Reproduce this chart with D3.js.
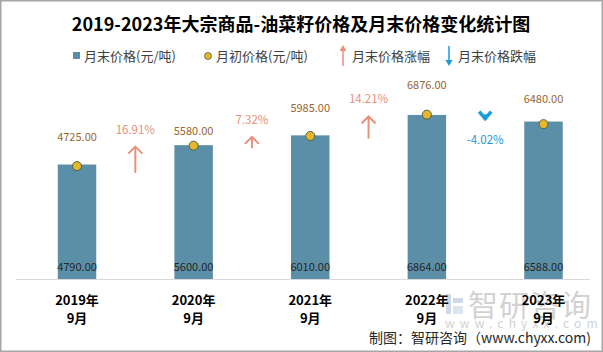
<!DOCTYPE html>
<html>
<head>
<meta charset="utf-8">
<script src="https://cdn.jsdelivr.net/npm/d3@7"></script>
<style>
  body { margin: 0; background: #fff; }
  text { font-family: "Noto Sans CJK SC", "Noto Sans", sans-serif; }
</style>
</head>
<body>
<div id="chart"></div>
<script>
// data
const categories = ["2019年\n9月", "2020年\n9月", "2021年\n9月", "2022年\n9月", "2023年\n9月"];
const endPrices = [4790, 5600, 6010, 6864, 6588];      // 月末价格
const startPrices = [4725, 5580, 5985, 6876, 6480];    // 月初价格
const changes = [16.91, 7.32, 14.21, -4.02];           // 月末价格涨跌幅 (%)

const W = 603, H = 352;
const baseY = 279;
const labelLift = [30, 16, 29, 31, 26];

const svg = d3.select("#chart").append("svg")
    .attr("width", W).attr("height", H);

svg.append("rect")
    .attr("x", 0.75).attr("y", 0.75)
    .attr("width", W - 1.5).attr("height", H - 1.5)
    .attr("fill", "#fff").attr("stroke", "#a6a6a6").attr("stroke-width", 1.5);

const x = d3.scaleBand()
    .domain(categories)
    .range([18.7, 601.8])
    .paddingInner(0.67)
    .paddingOuter(0.335);
const cx = d => x(d) + x.bandwidth() / 2;

const y = d3.scaleLinear().domain([0, 10000]).range([baseY, 40]);
const arrowLen = d3.scaleLinear().domain([0, 20]).range([0, 31]);

// watermark
const wm = svg.append("g");
wm.append("rect").attr("x", 446).attr("y", 294).attr("width", 5).attr("height", 20).attr("fill", "#cdd9e6");
wm.append("rect").attr("x", 453).attr("y", 298).attr("width", 10).attr("height", 5).attr("fill", "#cdd9e6");
wm.append("rect").attr("x", 453).attr("y", 306).attr("width", 10).attr("height", 8).attr("fill", "#dde6ef");
wm.append("text").attr("x", 468).attr("y", 316)
    .attr("font-size", 30).attr("fill", "#d2d2d2").attr("letter-spacing", 1)
    .text("智研咨询");
wm.append("text").attr("x", 445).attr("y", 328)
    .attr("font-size", 12).attr("fill", "#d2d2d2").attr("letter-spacing", 5.2)
    .text("www.chyxx.com");

// title
svg.append("text")
    .attr("x", 301).attr("y", 23)
    .attr("text-anchor", "middle").attr("dominant-baseline", "central")
    .attr("font-size", 18).attr("font-weight", "bold").attr("fill", "#000")
    .text("2019-2023年大宗商品-油菜籽价格及月末价格变化统计图");

// legend
const lg = svg.append("g").attr("font-size", 13).attr("fill", "#404040");
lg.append("rect").attr("x", 73).attr("y", 52).attr("width", 7).attr("height", 7).attr("fill", "#5b8fa7");
lg.append("text").attr("x", 84).attr("y", 55).attr("dominant-baseline", "central").text("月末价格(元/吨)");
lg.append("circle").attr("cx", 208).attr("cy", 56).attr("r", 3.5)
    .attr("fill", "#e9b52b").attr("stroke", "#4a6741").attr("stroke-width", 0.8);
lg.append("text").attr("x", 216).attr("y", 55).attr("dominant-baseline", "central").text("月初价格(元/吨)");
lg.append("line").attr("x1", 343).attr("x2", 343).attr("y1", 66).attr("y2", 49)
    .attr("stroke", "#e9907b").attr("stroke-width", 1.5);
lg.append("path").attr("d", "M339.5,51 L343,45 L346.5,51 Z").attr("fill", "#e9907b");
lg.append("text").attr("x", 352).attr("y", 55).attr("dominant-baseline", "central").text("月末价格涨幅");
lg.append("line").attr("x1", 449).attr("x2", 449).attr("y1", 46).attr("y2", 62)
    .attr("stroke", "#1b9ad6").attr("stroke-width", 1.5);
lg.append("path").attr("d", "M445.5,60 L449,66 L452.5,60 Z").attr("fill", "#1b9ad6");
lg.append("text").attr("x", 458).attr("y", 55).attr("dominant-baseline", "central").text("月末价格跌幅");

// bars
svg.selectAll(".bar")
    .data(endPrices)
    .join("rect")
    .attr("class", "bar")
    .attr("x", (d, i) => x(categories[i]))
    .attr("y", d => y(d))
    .attr("width", x.bandwidth())
    .attr("height", d => baseY - y(d))
    .attr("fill", "#5b8fa7");

// bar labels
svg.selectAll(".barLabel")
    .data(endPrices)
    .join("text")
    .attr("class", "barLabel")
    .attr("x", (d, i) => cx(categories[i]))
    .attr("y", baseY - 13)
    .attr("text-anchor", "middle").attr("dominant-baseline", "central")
    .attr("font-size", 11).attr("fill", "#262626")
    .attr("font-family", "Liberation Sans, sans-serif")
    .text(d => d.toFixed(2));

// axis line
svg.append("line")
    .attr("x1", 16).attr("x2", 590)
    .attr("y1", baseY + 0.5).attr("y2", baseY + 0.5)
    .attr("stroke", "#d9d9d9").attr("stroke-width", 1);

// start price dots
svg.selectAll(".dot")
    .data(startPrices)
    .join("circle")
    .attr("class", "dot")
    .attr("cx", (d, i) => cx(categories[i]))
    .attr("cy", d => y(d))
    .attr("r", 4.5)
    .attr("fill", "#e9b52b").attr("stroke", "#4a6741").attr("stroke-width", 1);

svg.selectAll(".dotLabel")
    .data(startPrices)
    .join("text")
    .attr("class", "dotLabel")
    .attr("x", (d, i) => cx(categories[i]))
    .attr("y", (d, i) => y(d) - labelLift[i])
    .attr("text-anchor", "middle").attr("dominant-baseline", "central")
    .attr("font-size", 11).attr("fill", "#9a6530")
    .attr("font-family", "Noto Sans, sans-serif")
    .text(d => d.toFixed(2));

// change arrows
changes.forEach((c, i) => {
    const ax = (cx(categories[i]) + cx(categories[i + 1])) / 2;
    const g = svg.append("g");
    if (c >= 0) {
        const tip = y(endPrices[i + 1]) + 1.5;
        const bot = tip + arrowLen(c);
        g.append("line").attr("x1", ax).attr("x2", ax).attr("y1", tip + 0.5).attr("y2", bot)
            .attr("stroke", "#e9907b").attr("stroke-width", 2);
        g.append("path")
            .attr("d", `M${ax - 7},${tip + 7} L${ax},${tip} L${ax + 7},${tip + 7}`)
            .attr("fill", "none").attr("stroke", "#e9907b").attr("stroke-width", 2);
        g.append("text").attr("x", ax).attr("y", tip - 18)
            .attr("text-anchor", "middle").attr("dominant-baseline", "central")
            .attr("font-size", 11.5).attr("fill", "#e9907b")
            .attr("font-family", "Noto Sans, sans-serif")
            .text(c.toFixed(2) + "%");
    } else {
        const tip = y(endPrices[i + 1]) - 1;
        const top = tip - arrowLen(-c);
        g.append("line").attr("x1", ax).attr("x2", ax).attr("y1", top).attr("y2", tip - 1)
            .attr("stroke", "#1b9ad6").attr("stroke-width", 3.5);
        g.append("path")
            .attr("d", `M${ax - 6},${tip - 9} L${ax},${tip - 2} L${ax + 6},${tip - 9}`)
            .attr("fill", "none").attr("stroke", "#1b9ad6").attr("stroke-width", 3.5);
        g.append("text").attr("x", ax).attr("y", tip + 18)
            .attr("text-anchor", "middle").attr("dominant-baseline", "central")
            .attr("font-size", 11.5).attr("fill", "#1b9ad6")
            .attr("font-family", "Noto Sans, sans-serif")
            .text(c.toFixed(2) + "%");
    }
});

// x labels
categories.forEach(c => {
    const parts = c.split("\n");
    parts.forEach((p, j) => {
        svg.append("text")
            .attr("x", cx(c)).attr("y", 299 + j * 18)
            .attr("text-anchor", "middle").attr("dominant-baseline", "central")
            .attr("font-size", 13).attr("font-weight", "bold").attr("fill", "#000")
            .text(p);
    });
});

// source
svg.append("text")
    .attr("x", 591).attr("y", 337)
    .attr("text-anchor", "end").attr("dominant-baseline", "central")
    .attr("font-size", 14).attr("fill", "#262626")
    .text("制图：智研咨询（www.chyxx.com)");
</script>
</body>
</html>
